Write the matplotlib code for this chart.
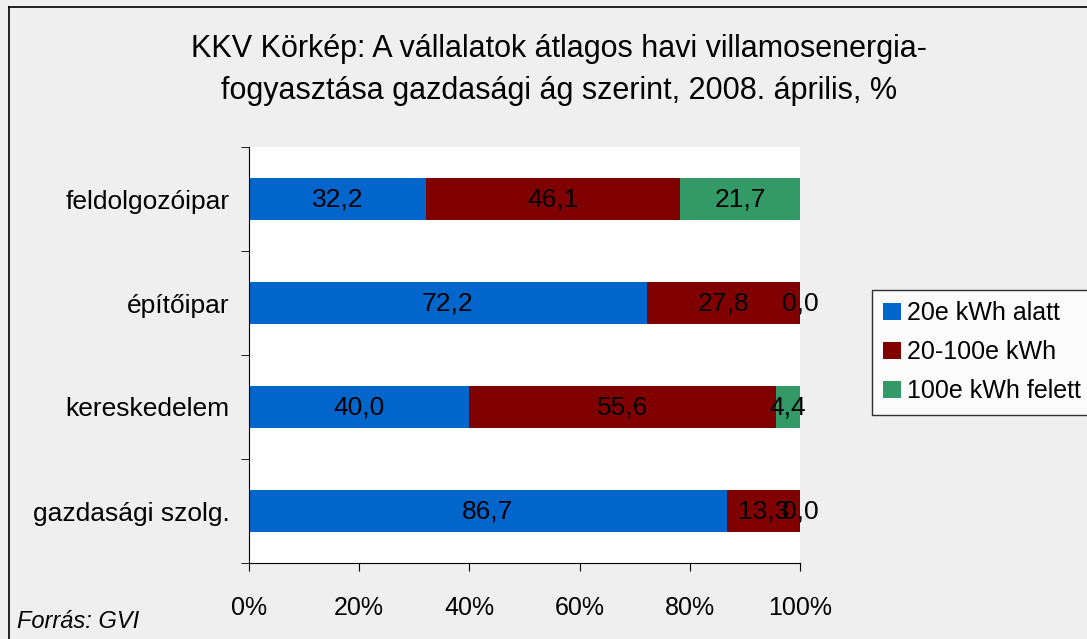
import matplotlib.pyplot as plt
import matplotlib
import numpy as np
matplotlib.rcParams.update({'font.family': ['Liberation Sans', 'DejaVu Sans']})

# adatok
categories = ['feldolgozóipar', 'építőipar', 'kereskedelem', 'gazdasági szolg.']
series_names = ['20e kWh alatt', '20-100e kWh', '100e kWh felett']
low = [32.2, 72.2, 40.0, 86.7]
mid = [46.1, 27.8, 55.6, 13.3]
high = [21.7, 0.0, 4.4, 0.0]
colors = ['#0066CC', '#800000', '#339966']
xticks = [0, 20, 40, 60, 80, 100]

W, H = 1087, 639
fig = plt.figure(figsize=(W/100, H/100), dpi=100, facecolor='#EFEFEF')
ax = fig.add_axes([249/W, 1 - 563/H, (800-249)/W, (563-147)/H])
ax.set_facecolor('white')

y = np.arange(len(categories))[::-1]
left = np.zeros(len(categories))
for vals, name, col in zip([low, mid, high], series_names, colors):
    vals = np.array(vals)
    ax.barh(y, vals, left=left, height=0.4, color=col, label=name)
    for yi, l, v in zip(y, left, vals):
        ax.text(l + v/2, yi, f'{v:.1f}'.replace('.', ','), ha='center', va='center', fontsize=19)
    left = left + vals

ax.set_xlim(0, 100)
ax.set_ylim(-0.5, len(categories) - 0.5)
ax.set_xticks(xticks)
ax.set_xticklabels([f'{t}%' for t in xticks], fontsize=18)
ax.set_yticks(y)
ax.set_yticklabels(categories, fontsize=19)
ax.set_yticks(np.arange(-0.5, len(categories)), minor=True)
ax.tick_params(axis='y', which='major', length=0, pad=14)
ax.tick_params(axis='y', which='minor', length=6, direction='out')
ax.tick_params(axis='x', length=6, direction='out', pad=18)
for s in ['top', 'right']:
    ax.spines[s].set_visible(False)

fig.text(559/W, 1 - 70/H, 'KKV Körkép: A vállalatok átlagos havi villamosenergia-\nfogyasztása gazdasági ág szerint, 2008. április, %',
         ha='center', va='center', fontsize=22, linespacing=1.5)
fig.text(17/W, 1 - 621/H, 'Forrás: GVI', style='italic', fontsize=17, va='center')

leg = fig.legend(loc='upper left', bbox_to_anchor=(872/W, 1 - 290/H), fontsize=18,
                 frameon=True, fancybox=False, edgecolor='black', facecolor='white',
                 handlelength=0.7, handleheight=0.7, handletextpad=0.25, labelspacing=0.6,
                 borderpad=0.45, borderaxespad=0)
leg.get_frame().set_linewidth(1)

# rama
fig.add_artist(plt.Line2D([9/W, 9/W], [0, 1 - 7/H], transform=fig.transFigure, color='black', lw=1.2))
fig.add_artist(plt.Line2D([9/W, 1], [1 - 7/H, 1 - 7/H], transform=fig.transFigure, color='black', lw=1.2))

plt.savefig('out.png', dpi=100, facecolor=fig.get_facecolor())
